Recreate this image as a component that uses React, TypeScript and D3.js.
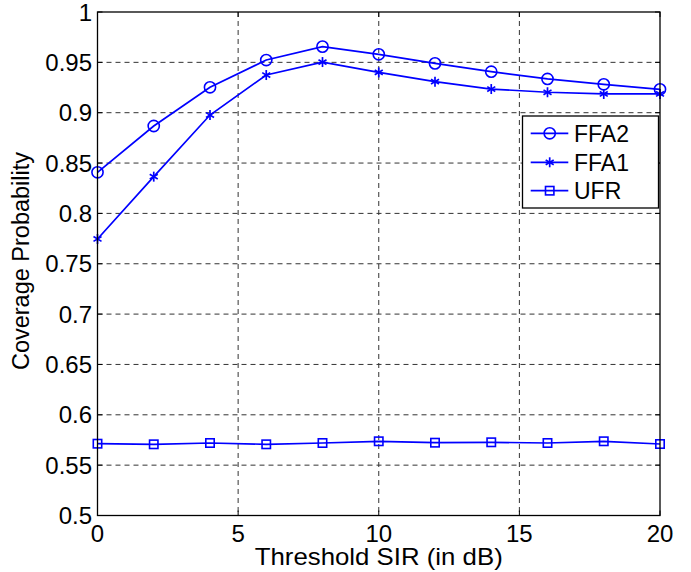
import React from "react";
import * as d3 from "d3";

const xValues = [0, 2, 4, 6, 8, 10, 12, 14, 16, 18, 20];
const ffa2 = [0.8408, 0.8868, 0.9252, 0.9523, 0.9656, 0.958, 0.949, 0.9407, 0.9335, 0.9282, 0.9232];
const ffa1 = [0.7746, 0.8365, 0.8977, 0.9374, 0.9503, 0.940, 0.9308, 0.9235, 0.9203, 0.9186, 0.9186];
const ufr = [0.5713, 0.5707, 0.572, 0.5707, 0.572, 0.5737, 0.5723, 0.5727, 0.572, 0.5737, 0.571];
const xTicks = [0, 5, 10, 15, 20];
const yTicks = [0.5, 0.55, 0.6, 0.65, 0.7, 0.75, 0.8, 0.85, 0.9, 0.95, 1];
const yTickLabels = ["0.5", "0.55", "0.6", "0.65", "0.7", "0.75", "0.8", "0.85", "0.9", "0.95", "1"];
const seriesNames = ["FFA2", "FFA1", "UFR"];
const markerTypes = ["circle", "star", "square"];

const BLUE = "#0000ff";
const FONT = "'Liberation Sans', Arial, sans-serif";

function Marker({ type, x, y }: { type: string; x: number; y: number }) {
  if (type === "circle") {
    return <circle cx={x} cy={y} r={5.6} fill="none" stroke={BLUE} strokeWidth={1.6} />;
  }
  if (type === "square") {
    return <rect x={x - 4.2} y={y - 4.2} width={8.4} height={8.4} fill="none" stroke={BLUE} strokeWidth={1.6} />;
  }
  const s = 5;
  const d = s * 0.8;
  return (
    <g stroke={BLUE} strokeWidth={1.7}>
      <line x1={x} y1={y - s} x2={x} y2={y + s} />
      <line x1={x - d} y1={y - d * 0.6} x2={x + d} y2={y + d * 0.6} />
      <line x1={x - d} y1={y + d * 0.6} x2={x + d} y2={y - d * 0.6} />
    </g>
  );
}

export default function App() {
  const W = 691, H = 572;
  const left = 97.5, right = 660, top = 12, bottom = 515.5;
  const x = d3.scaleLinear().domain([0, 20]).range([left, right]);
  const y = d3.scaleLinear().domain([0.5, 1]).range([bottom, top]);
  const series = [ffa2, ffa1, ufr];
  const line = d3
    .line<number>()
    .x((_, i) => x(xValues[i]))
    .y((v) => y(v));

  const legX = 522.5, legY = 116, legW = 136, legH = 92;
  const legRows = [133.3, 162.3, 190.7];

  return (
    <svg width={W} height={H} style={{ position: "absolute", left: 0, top: 0, background: "#fff" }}>
      <rect x={0} y={0} width={W} height={H} fill="#fff" />
      {/* grid */}
      <g stroke="#333" strokeWidth={1} strokeDasharray="5,4" fill="none">
        {xTicks.slice(1, -1).map((t) => (
          <line key={"gx" + t} x1={x(t)} x2={x(t)} y1={top} y2={bottom} />
        ))}
        {yTicks.slice(1, -1).map((t) => (
          <line key={"gy" + t} x1={left} x2={right} y1={y(t)} y2={y(t)} />
        ))}
      </g>
      {/* ticks */}
      <g stroke="#000" strokeWidth={1}>
        {xTicks.map((t) => (
          <g key={"tx" + t}>
            <line x1={x(t)} x2={x(t)} y1={bottom} y2={bottom - 5} />
            <line x1={x(t)} x2={x(t)} y1={top} y2={top + 5} />
          </g>
        ))}
        {yTicks.map((t) => (
          <g key={"ty" + t}>
            <line x1={left} x2={left + 5} y1={y(t)} y2={y(t)} />
            <line x1={right} x2={right - 5} y1={y(t)} y2={y(t)} />
          </g>
        ))}
      </g>
      {/* series */}
      {series.map((s, si) => (
        <g key={"s" + si}>
          <path d={line(s) || ""} fill="none" stroke={BLUE} strokeWidth={1.7} />
          {s.map((v, i) => (
            <Marker key={i} type={markerTypes[si]} x={x(xValues[i])} y={y(v)} />
          ))}
        </g>
      ))}
      {/* axes box */}
      <rect x={left} y={top} width={right - left} height={bottom - top} fill="none" stroke="#000" strokeWidth={1.3} />
      {/* tick labels */}
      <g fontFamily={FONT} fontSize={24} fill="#000">
        {xTicks.map((t) => (
          <text key={"lx" + t} x={x(t)} y={542} textAnchor="middle">
            {t}
          </text>
        ))}
        {yTicks.map((t, i) => (
          <text key={"ly" + t} x={92} y={y(t) + 8.5} textAnchor="end">
            {yTickLabels[i]}
          </text>
        ))}
      </g>
      {/* axis labels */}
      <text
        x={(left + right) / 2}
        y={565}
        textAnchor="middle"
        fontFamily={FONT}
        fontSize={24.5}
        textLength={248}
        lengthAdjust="spacingAndGlyphs"
      >
        Threshold SIR (in dB)
      </text>
      <text
        transform={`translate(28.5, 261) rotate(-90)`}
        textAnchor="middle"
        fontFamily={FONT}
        fontSize={23.5}
      >
        Coverage Probability
      </text>
      {/* legend */}
      <rect x={legX} y={legY} width={legW} height={legH} fill="#fff" stroke="#000" strokeWidth={1.3} />
      {seriesNames.map((n, i) => (
        <g key={"leg" + n}>
          <line x1={530.7} x2={568.3} y1={legRows[i]} y2={legRows[i]} stroke={BLUE} strokeWidth={1.7} />
          <Marker type={markerTypes[i]} x={549.7} y={legRows[i]} />
          <text x={574} y={legRows[i] + 8.5} fontFamily={FONT} fontSize={23}>
            {n}
          </text>
        </g>
      ))}
    </svg>
  );
}
